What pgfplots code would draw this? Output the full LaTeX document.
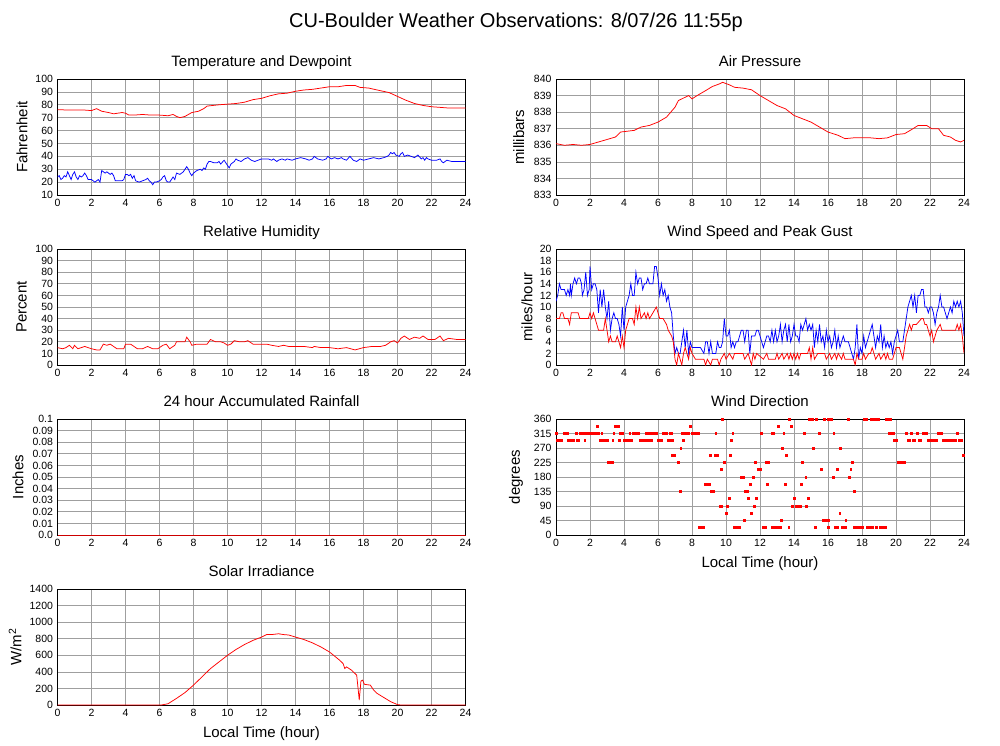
\documentclass[border=0pt]{standalone}
\usepackage{fontspec}
\setmainfont{Liberation Sans}
\usepackage{pgfplots}
\usepackage{pgfplotstable}
\pgfplotsset{compat=1.18}

% --- data, hours of local time ---
\pgfplotstableread{
t T
0 76.2
0.5 76
1 76
1.5 76
2 75.5
2.3 77
2.6 75
3 74
3.3 73
3.8 74
4 73.5
4.2 72
4.5 72
5 72.5
5.5 72
6 72
6.5 71.5
6.8 72.5
7 71
7.2 70
7.5 71
7.9 74
8.3 75
8.6 77
8.8 79
9.5 80
10 80.5
10.5 81
11 82
11.5 84
12 85
12.5 87
13 88.5
13.5 89
14 90.5
14.5 91.5
15 92
15.5 93
16 94
16.5 94
17 95
17.5 95
17.8 93.5
18.3 93
18.8 91.5
19.5 89.5
20 86.5
20.5 83.5
21 81
21.5 79.5
22 78.5
22.5 78
23 77.5
23.5 77.5
24 77.5
}\temptab

\pgfplotstableread{
t D
0 24
0.1 25
0.2 22
0.3 23
0.4 25
0.5 24
0.6 28
0.7 25
0.8 22
0.9 26
1.0 28
1.1 24
1.2 22
1.3 25
1.4 24
1.5 25
1.6 27
1.7 25
1.8 22
1.9 22
2.0 22
2.1 21
2.2 20
2.3 21
2.4 22
2.5 20
2.6 29
2.7 28
2.8 27
2.9 28
3.0 27
3.1 26
3.2 27
3.3 25
3.4 21
3.6 21
3.8 21
3.9 22
4.0 26
4.1 26
4.2 25
4.3 26
4.4 23
4.5 25
4.6 21
4.8 20
5.0 21
5.2 22
5.3 23
5.4 21
5.5 20
5.6 18
5.7 20
5.8 20
6.0 21
6.1 22
6.2 24
6.3 25
6.4 21
6.5 20
6.6 20
6.8 24
6.9 22
7.0 27
7.2 26
7.4 28
7.5 30
7.6 32
7.7 30
7.8 27
7.9 25
8.0 27
8.2 29
8.4 30
8.5 29
8.6 31
8.7 30
8.8 34
8.9 36
9.0 36
9.2 35
9.4 35
9.5 36
9.6 34
9.8 37
9.9 35
10.0 33
10.1 31
10.2 34
10.3 35
10.4 36
10.5 38
10.6 37
10.8 36
11.0 38
11.2 39
11.4 37
11.6 36
11.8 37
12.0 38
12.2 38
12.4 38
12.6 37
12.7 38
12.9 36
13.0 37
13.2 38
13.4 37
13.5 38
13.8 37
14.0 38
14.3 39
14.6 38
14.8 37
15.0 38
15.1 40
15.3 38
15.6 37
15.8 38
15.9 40
16.1 38
16.3 39
16.5 38
16.7 39
16.8 38
17.0 37
17.2 40
17.4 37
17.6 36
17.8 38
18.0 37
18.3 38
18.6 39
18.9 38
19.2 39
19.4 40
19.5 41
19.6 43
19.7 42
19.8 43
19.9 41
20.1 40
20.2 42
20.3 43
20.4 40
20.6 41
20.8 40
21.0 39
21.2 41
21.4 38
21.5 39
21.6 37
21.7 39
21.8 38
22.0 37
22.3 37
22.5 38
22.6 36
22.7 35
22.9 37
23.2 36
23.5 36
23.8 36
24 36
}\dewtab

\pgfplotstableread{
t P
0 836.1
0.5 836.0
1 836.05
1.5 836.0
2 836.05
2.5 836.2
3 836.35
3.5 836.5
3.8 836.8
4.2 836.85
4.6 836.9
5 837.1
5.5 837.2
6 837.4
6.5 837.7
7 838.3
7.2 838.7
7.5 838.85
7.8 839.0
8.0 838.8
8.3 839.0
8.8 839.3
9.2 839.55
9.6 839.7
9.8 839.8
10.2 839.65
10.5 839.5
11 839.45
11.5 839.35
12 839.0
12.5 838.7
13 838.4
13.5 838.2
14 837.8
14.5 837.6
15 837.4
15.5 837.1
16 836.8
16.3 836.7
16.6 836.6
17 836.4
17.5 836.45
18 836.45
18.5 836.45
19 836.4
19.5 836.45
20 836.65
20.5 836.7
21 837.0
21.3 837.2
21.8 837.2
22.1 837.0
22.5 837.0
22.8 836.6
23.2 836.5
23.5 836.3
23.8 836.2
24 836.3
}\prestab

\pgfplotstableread{
t H
0 15
0.3 14
0.5 15
0.7 17
0.9 14
1.0 17
1.2 14
1.4 15
1.6 16
1.8 15
2.0 14
2.3 13
2.5 13
2.7 18
2.9 17
3.1 18
3.3 16
3.5 14
3.9 14
4.0 18
4.3 18
4.5 16
4.7 14
5.0 14
5.3 16
5.6 14
5.9 14
6.2 17
6.4 18
6.6 14
6.9 17
7.0 20
7.3 20
7.5 20
7.6 24
7.8 20
7.9 17
8.2 18
8.6 18
8.8 18
9.0 22
9.3 20
9.6 20
9.8 19
10.0 17
10.2 18
10.4 21
10.7 20
11.0 20
11.2 21
11.5 18
12.0 18
12.3 18
12.6 17
13.0 16
13.3 17
13.6 16
14.0 16
14.5 16
15.0 15
15.1 16
15.5 15
16.0 15
16.5 14
17.0 15
17.5 13
18.0 15
18.5 16
19.0 16
19.3 17
19.6 20
19.8 21
20.0 19
20.2 23
20.4 25
20.7 22
21.0 24
21.3 23
21.5 25
21.8 22
22.2 22
22.5 25
22.7 21
23.0 23
23.5 22
24 22
}\humtab

\pgfplotstableread{
t G
0 11
0.1 12
0.2 14
0.3 13
0.5 13
0.6 12
0.7 13
0.8 12
0.85 14
0.9 12
1.0 14
1.1 15
1.2 14
1.3 15
1.4 15
1.5 14
1.55 12
1.65 13
1.75 16
1.85 12
1.95 13
2.0 17
2.1 13
2.2 14
2.3 14
2.4 13
2.5 9
2.6 13
2.7 10
2.8 13
2.9 10
3.0 8
3.1 11
3.2 6
3.3 8
3.4 9
3.5 8
3.6 8
3.7 7
3.8 5
3.9 10
4.0 6
4.1 10
4.2 11
4.3 12
4.4 14
4.5 12
4.6 12
4.7 16
4.8 14
4.9 15
5.0 15
5.1 13
5.2 14
5.3 14
5.4 15
5.5 14
5.6 14
5.7 14
5.8 17
5.9 17
6.0 15
6.1 12
6.2 14
6.3 12
6.4 13
6.5 11
6.6 12
6.7 10
6.8 9
6.9 5
7.0 2
7.1 3
7.2 2
7.3 2
7.4 4
7.5 6
7.6 3
7.7 6
7.8 2
7.9 4
8.0 3
8.2 3
8.5 3
8.7 2
8.8 4
8.9 4
9.0 2
9.1 4
9.2 2
9.4 2
9.5 4
9.6 3
9.7 3
9.8 4
9.9 8
10.0 5
10.1 5
10.2 6
10.3 3
10.4 4
10.5 3
10.6 4
10.7 4
10.8 5
10.9 6
11.0 6
11.1 4
11.2 6
11.3 6
11.4 2
11.5 5
11.6 5
11.7 5
11.8 6
11.9 6
12.0 5
12.1 4
12.2 3
12.3 4
12.4 5
12.5 5
12.6 4
12.7 6
12.8 4
12.9 6
13.0 4
13.1 5
13.2 7
13.3 4
13.4 6
13.5 7
13.6 4
13.7 7
13.8 4
13.9 5
14.0 7
14.1 5
14.2 5
14.3 4
14.4 7
14.5 6
14.6 7
14.7 8
14.8 6
14.9 7
15.0 6
15.1 7
15.2 3
15.3 6
15.4 4
15.5 7
15.6 4
15.7 5
15.8 3
15.9 6
16.0 4
16.1 5
16.2 3
16.3 4
16.4 6
16.5 3
16.6 5
16.7 3
16.8 4
16.9 5
17.0 4
17.2 4
17.3 3
17.5 1
17.6 3
17.7 7
17.8 1
17.9 3
18.0 2
18.1 5
18.2 3
18.3 4
18.5 6
18.6 7
18.7 5
18.8 3
18.9 5
19.0 4
19.1 7
19.2 3
19.3 5
19.4 3
19.5 4
19.6 3
19.7 4
19.8 2
19.9 4
20.0 5
20.1 6
20.2 4
20.4 4
20.5 6
20.6 8
20.7 10
20.8 11
20.9 12
21.0 10
21.1 12
21.2 9
21.3 12
21.4 12
21.5 13
21.6 13
21.7 10
21.8 10
21.9 9
22.0 10
22.1 10
22.2 9
22.3 7
22.4 9
22.5 10
22.6 12
22.7 10
22.8 10
22.9 9
23.0 8
23.1 9
23.2 10
23.3 9
23.4 11
23.5 10
23.6 11
23.7 10
23.8 11
23.9 9
24.0 5
}\gusttab

\pgfplotstableread{
t S
0 8
0.2 8
0.3 9
0.4 9
0.5 8
0.6 8
0.7 8
0.8 7
0.9 9
1.3 9
1.4 8
1.9 8
2.0 9
2.1 8
2.2 9
2.3 8
2.5 6
2.7 6
2.8 6
2.9 8
3.0 6
3.1 4
3.2 5
3.3 4
3.5 4
3.6 5
3.7 4
3.8 3
3.9 5
4.0 3
4.1 6
4.2 7
4.3 8
4.5 8
4.6 7
4.7 10
4.8 8
4.9 10
5.0 8
5.2 9
5.3 8
5.4 9
5.5 8
5.7 9
5.9 10
6.0 9
6.1 8
6.3 8
6.5 7
6.6 6
6.8 5
6.9 4
7.0 1
7.1 0
7.2 2
7.3 1
7.4 0
7.5 2
7.6 3
7.7 2
7.8 1
7.9 3
8.0 2
8.2 1
8.5 1
8.7 1
8.8 0
8.9 1
9.1 0
9.2 1
9.5 1
9.6 0
9.7 1
9.9 2
10.0 1
10.2 2
10.4 1
10.5 2
10.9 2
11.0 2
11.1 1
11.3 2
11.5 0
11.6 2
11.7 1
11.8 2
12.2 1
12.4 2
12.5 1
12.9 1
13.0 2
13.1 1
13.3 2
13.4 1
13.6 2
13.7 1
13.8 2
13.9 1
14.0 2
14.1 1
14.2 2
14.3 1
14.4 2
14.8 2
14.9 3
15.0 1
15.1 3
15.2 1
15.4 2
15.8 2
15.9 1
16.1 2
16.2 1
16.4 2
16.5 1
16.6 2
16.8 1
16.9 2
17.0 1
17.5 1
17.6 0
17.7 2
17.8 1
18.0 1
18.1 2
18.2 1
18.4 2
18.5 2
18.6 3
18.7 2
18.8 1
19.0 2
19.1 1
19.3 2
19.4 1
19.5 2
19.6 1
19.8 1
20.0 3
20.2 3
20.4 1
20.5 3
20.6 5
20.8 7
20.9 6
21.0 7
21.2 7
21.5 8
21.6 8
21.7 7
21.8 7
21.9 6
22.0 5
22.1 6
22.2 4
22.3 5
22.4 6
22.6 7
22.7 6
23.0 6
23.5 6
23.6 7
23.7 6
23.8 7
23.9 5
24.0 2
}\speedtab

\pgfplotstableread{
t W
0 0
6.1 0
6.5 15
7.0 80
7.5 150
8.0 240
8.5 340
9.0 440
9.5 520
10.0 600
10.5 670
11.0 730
11.5 780
12.0 820
12.3 850
12.6 850
13.0 860
13.3 850
13.6 845
14.0 820
14.5 790
15.0 750
15.5 700
16.0 640
16.3 590
16.6 540
16.8 500
16.9 440
17.0 460
17.3 420
17.6 360
17.75 60
17.85 290
17.95 300
18.05 250
18.4 240
18.6 180
18.8 140
19.2 90
19.6 40
20.0 5
20.2 0
24 0
}\soltab

\pgfplotstableread{
t R
0 0
24 0
}\raintab

% wind direction, one row per reading
\pgfplotstableread{
t d
0 315
0.5 315
0.6 315
0.7 315
1.2 315
1.4 315
1.5 315
1.6 315
1.8 315
1.9 315
2.0 315
2.1 315
2.2 315
2.3 315
2.4 315
2.5 315
2.7 315
3.4 315
3.8 315
3.9 315
4.35 315
4.55 315
4.65 315
4.75 315
4.85 315
5.3 315
5.4 315
5.5 315
5.6 315
5.7 315
5.8 315
5.9 315
6.3 315
6.4 315
6.5 315
6.7 315
6.8 315
7.4 315
7.5 315
7.6 315
7.7 315
7.8 315
8.0 315
8.1 315
8.2 315
8.3 315
8.4 315
9.4 315
10.4 315
12.1 315
12.7 315
12.8 315
13.4 315
14.6 315
15.5 315
16.35 315
19.6 315
19.7 315
19.85 315
20.6 315
20.9 315
21.25 315
21.6 315
21.7 315
21.8 315
22.5 315
22.6 315
22.7 315
23.6 315
0.05 292.5
0.15 292.5
0.25 292.5
0.35 292.5
0.75 292.5
0.85 292.5
0.95 292.5
1.05 292.5
1.25 292.5
1.35 292.5
1.7 292.5
2.6 292.5
2.7 292.5
2.8 292.5
2.9 292.5
3.0 292.5
3.35 292.5
3.75 292.5
4.0 292.5
4.1 292.5
4.2 292.5
4.3 292.5
4.45 292.5
4.95 292.5
5.05 292.5
5.15 292.5
5.25 292.5
5.45 292.5
5.6 292.5
6.0 292.5
6.1 292.5
6.2 292.5
6.6 292.5
6.8 292.5
6.85 292.5
7.5 292.5
10.3 292.5
19.9 292.5
20.0 292.5
20.05 292.5
20.7 292.5
20.8 292.5
21.0 292.5
21.1 292.5
21.35 292.5
21.45 292.5
21.9 292.5
22.0 292.5
22.1 292.5
22.2 292.5
22.3 292.5
22.4 292.5
22.8 292.5
22.9 292.5
23.0 292.5
23.1 292.5
23.2 292.5
23.3 292.5
23.4 292.5
23.5 292.5
23.7 292.5
23.8 292.5
23.85 292.5
2.45 337.5
3.5 337.5
3.6 337.5
3.7 337.5
7.9 337.5
13.1 337.5
13.85 337.5
9.8 360
13.75 360
14.9 360
15.0 360
15.1 360
15.3 360
15.8 360
16.0 360
16.1 360
16.2 360
17.2 360
18.15 360
18.25 360
18.55 360
18.65 360
18.75 360
18.85 360
18.95 360
19.4 360
19.5 360
19.6 360
19.7 360
7.35 270
13.3 270
15.15 270
16.75 270
6.85 247.5
6.95 247.5
9.1 247.5
9.35 247.5
9.5 247.5
10.25 247.5
13.55 247.5
23.95 247.5
3.1 225
3.2 225
3.3 225
7.2 225
9.9 225
11.75 225
12.35 225
12.5 225
14.5 225
17.45 225
20.15 225
20.25 225
20.35 225
20.5 225
9.75 202.5
11.9 202.5
12.0 202.5
15.6 202.5
16.55 202.5
17.35 202.5
10.9 180
11.0 180
11.6 180
14.7 180
16.3 180
17.25 180
8.8 157.5
8.9 157.5
9.0 157.5
11.45 157.5
12.45 157.5
13.5 157.5
14.45 157.5
7.3 135
9.15 135
9.25 135
11.15 135
11.25 135
17.55 135
10.2 112.5
11.3 112.5
11.8 112.5
14.0 112.5
14.85 112.5
9.65 90
9.75 90
10.1 90
11.65 90
13.9 90
14.15 90
14.25 90
14.4 90
14.75 90
10.0 67.5
11.5 67.5
16.7 67.5
11.1 45
13.25 45
15.7 45
15.8 45
15.9 45
16.0 45
17.05 45
8.4 22.5
8.5 22.5
8.6 22.5
8.7 22.5
10.5 22.5
10.6 22.5
10.7 22.5
10.8 22.5
12.2 22.5
12.3 22.5
12.7 22.5
12.85 22.5
12.95 22.5
13.05 22.5
13.2 22.5
13.7 22.5
15.25 22.5
16.0 22.5
16.45 22.5
16.55 22.5
16.85 22.5
16.95 22.5
17.05 22.5
17.55 22.5
17.65 22.5
17.75 22.5
17.85 22.5
17.95 22.5
18.05 22.5
18.3 22.5
18.4 22.5
18.5 22.5
18.6 22.5
18.85 22.5
19.1 22.5
19.2 22.5
19.3 22.5
19.4 22.5
}\dirtab

\pgfplotsset{
  wx/.style={
    scale only axis, width=408pt, height=116pt,
    xmin=0, xmax=24, xtick={0,2,...,24},
    grid=major, major grid style={gray!75, line width=0.7pt},
    axis line style={black, line width=0.8pt},
    major tick length=0pt,
    tick label style={font=\fontsize{10.5}{12}\selectfont},
    xticklabel style={yshift=-1pt},
    yticklabel style={xshift=-1pt},
    /pgf/number format/assume math mode=true,
    /pgf/number format/1000 sep={},
    every axis title shift=0pt,
    title style={font=\fontsize{15}{18}\selectfont, at={(axis description cs:0.5,1.112)}, anchor=base},
    label style={font=\fontsize{15}{18}\selectfont},
    xlabel style={at={(axis description cs:0.5,-0.25)}, anchor=center},
    every axis plot/.append style={line width=0.75pt},
  },
  ylab/.style={ylabel style={at={(axis description cs:#1,0.5)}, anchor=center}},
}

\begin{document}
\begin{tikzpicture}
\useasboundingbox (0,0) rectangle (1000pt,-745pt);
\node[font=\fontsize{20}{24}\selectfont, anchor=base] at (516pt,-27pt) {CU-Boulder Weather Observations: 8/07/26 11:55p};

% temperature and dewpoint
\begin{axis}[wx, at={(57.5pt,-195pt)}, anchor=south west,
  ymin=10, ymax=100, ytick={10,20,...,100},
  title={Temperature and Dewpoint}, ylabel={Fahrenheit}, ylab=-0.087]
\addplot[red] table[x=t, y=T] {\temptab};
\addplot[blue] table[x=t, y=D] {\dewtab};
\end{axis}

% pressure
\begin{axis}[wx, at={(556pt,-195pt)}, anchor=south west,
  ymin=833, ymax=840, ytick={833,834,...,840},
  title={Air Pressure}, ylabel={millibars}, ylab=-0.091]
\addplot[red] table[x=t, y=P] {\prestab};
\end{axis}

% humidity
\begin{axis}[wx, at={(57.5pt,-365pt)}, anchor=south west,
  ymin=0, ymax=100, ytick={0,10,...,100},
  title={Relative Humidity}, ylabel={Percent}, ylab=-0.088]
\addplot[red] table[x=t, y=H] {\humtab};
\end{axis}

% wind
\begin{axis}[wx, at={(556pt,-365pt)}, anchor=south west,
  ymin=0, ymax=20, ytick={0,2,...,20},
  title={Wind Speed and Peak Gust}, ylabel={miles/hour}, ylab=-0.071]
\addplot[blue] table[x=t, y=G] {\gusttab};
\addplot[red] table[x=t, y=S] {\speedtab};
\end{axis}

% rain
\begin{axis}[wx, at={(57.5pt,-535pt)}, anchor=south west,
  ymin=0, ymax=0.1,
  ytick={0,0.01,0.02,0.03,0.04,0.05,0.06,0.07,0.08,0.09,0.1},
  yticklabels={0.0,0.01,0.02,0.03,0.04,0.05,0.06,0.07,0.08,0.09,0.1},
  title={24 hour Accumulated Rainfall}, ylabel={Inches}, ylab=-0.097]
\addplot[red!80!black] table[x=t, y=R] {\raintab};
\end{axis}

% wind direction
\begin{axis}[wx, at={(556pt,-535pt)}, anchor=south west,
  ymin=0, ymax=360, ytick={0,45,...,360},
  title={Wind Direction}, ylabel={degrees}, ylab=-0.098,
  xlabel={Local Time (hour)}]
\addplot[red, only marks, mark=square*, mark size=0.9pt] table[x=t, y=d] {\dirtab};
\end{axis}

% solar
\begin{axis}[wx, at={(57.5pt,-705pt)}, anchor=south west,
  ymin=0, ymax=1400, ytick={0,200,...,1400},
  title={Solar Irradiance}, ylabel={W/m\textsuperscript{2}}, ylab=-0.104,
  xlabel={Local Time (hour)}]
\addplot[red] table[x=t, y=W] {\soltab};
\end{axis}
\end{tikzpicture}
\end{document}
